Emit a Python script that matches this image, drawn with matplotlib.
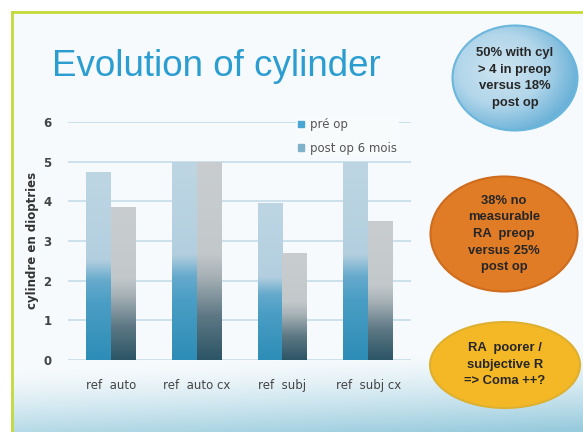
import numpy as np
import matplotlib
matplotlib.use("Agg")
import matplotlib.pyplot as plt
from matplotlib.patches import Ellipse, Rectangle
from matplotlib.colors import LinearSegmentedColormap, to_rgb

categories = ["ref  auto", "ref  auto cx", "ref  subj", "ref  subj cx"]
series_names = ["pré op", "post op 6 mois"]
pre_op = [4.75, 5.0, 3.95, 5.0]
post_op = [3.85, 5.0, 2.7, 3.5]
y_ticks = [0, 1, 2, 3, 4, 5, 6]
title = "Evolution of cylinder"
ylabel = "cylindre en dioptries"
notes = ["50% with cyl\n> 4 in preop\nversus 18%\npost op",
         "38% no\nmeasurable\nRA  preop\nversus 25%\npost op",
         "RA  poorer /\nsubjective R\n=> Coma ++?"]

W, H = 583, 432
fig = plt.figure(figsize=(W / 100, H / 100), dpi=100)

# background
bg = fig.add_axes([0, 0, 1, 1], zorder=-10)
yy, xx = np.mgrid[0:H, 0:W]
base = np.array(to_rgb("#f6fafc"))
blue = np.array(to_rgb("#98cbdd"))
t = np.clip((yy - 360 + 0.04 * (xx - 300)) / 80.0, 0, 1) ** 1.3
img = base[None, None, :] * (1 - t[..., None]) + blue[None, None, :] * t[..., None]
img[:11, :, :] = 1.0
img[:, :11, :] = 1.0
bg.imshow(img, extent=(0, W, H, 0), aspect="auto")
bg.plot([11.5, 11.5], [H, 11.5], color="#c3da3a", lw=2)
bg.plot([11.5, W], [11.5, 11.5], color="#c3da3a", lw=2)
bg.set_xlim(0, W)
bg.set_ylim(H, 0)
bg.axis("off")

def fx(px):
    return px / W

def fy(py):
    return 1 - py / H

# title
fig.text(fx(52), fy(66), title, fontsize=26.5, color="#2b9dd0",
         family="Liberation Sans", va="center", ha="left")

# main axes
ax = fig.add_axes([fx(68), fy(360), fx(411) - fx(68), (360 - 122) / H])
ax.set_facecolor("none")
x = np.arange(len(categories))
bw = 0.29
bars_pre = ax.bar(x - bw / 2, pre_op, bw, color="none", label=series_names[0], zorder=3)
bars_post = ax.bar(x + bw / 2, post_op, bw, color="none", label=series_names[1], zorder=3)

cm_pre = LinearSegmentedColormap.from_list("pre", [
    (0.0, "#2d8db6"), (0.3, "#4a9ec5"), (0.42, "#66aacc"),
    (0.53, "#b3cfdf"), (1.0, "#bed6e4")])
cm_post = LinearSegmentedColormap.from_list("post", [
    (0.0, "#2c5566"), (0.22, "#5d7884"), (0.42, "#a6b1b6"),
    (0.54, "#c3c9cb"), (1.0, "#c9cdcf")])
grad = np.linspace(1, 0, 256).reshape(-1, 1)
for bars, cm in ((bars_pre, cm_pre), (bars_post, cm_post)):
    for b in bars:
        x0, w, h = b.get_x(), b.get_width(), b.get_height()
        im = ax.imshow(grad, cmap=cm, vmin=0, vmax=1, extent=(x0, x0 + w, 0, h),
                       aspect="auto", zorder=3, interpolation="bilinear")
        im.set_clip_path(b)

ax.set_xlim(-0.5, len(categories) - 0.5)
ax.set_ylim(0, 6)
ax.set_yticks(y_ticks)
ax.set_xticks(x)
ax.set_xticklabels(categories)
ax.yaxis.grid(True, color="#c4dce8", lw=1.2, zorder=0)
ax.set_axisbelow(True)
for s in ax.spines.values():
    s.set_visible(False)
ax.tick_params(axis="both", length=0, labelsize=8.5, labelcolor="#444444")
ax.tick_params(axis="y", pad=12)
ax.tick_params(axis="x", pad=14)
for lab in ax.get_yticklabels():
    lab.set_fontweight("bold")
fig.text(fx(33), fy(240), ylabel, rotation=90, fontsize=8.5, fontweight="bold",
         color="#333333", ha="center", va="center")

handles = [Rectangle((0, 0), 1, 1, color="#4aa6d2"), Rectangle((0, 0), 1, 1, color="#7fb2c8")]
leg = fig.legend(handles, series_names, loc="upper left",
                 bbox_to_anchor=(fx(290), fy(110)), frameon=True, facecolor="#f8fbfc",
                 edgecolor="none", framealpha=1, fontsize=8.5, handlelength=0.5,
                 handleheight=0.5, handletextpad=0.5, labelspacing=0.9,
                 borderpad=0.2)
for tx in leg.get_texts():
    tx.set_color("#555555")

# ellipses
ells = [((515, 78), 125, 105, None, "#6ab6dc"),
        ((504, 234), 147, 115, "#e07b26", "#cf6c1d"),
        ((505, 365), 150, 86, "#f4b826", "#ddb030")]
for (c, w, h, fc, ec), note in zip(ells, notes):
    eax = fig.add_axes([fx(c[0] - w / 2 - 2), fy(c[1] + h / 2 + 2),
                        (w + 4) / W, (h + 4) / H], zorder=5)
    eax.set_xlim(-0.5 - 2 / w, 0.5 + 2 / w)
    eax.set_ylim(-0.5 - 2 / h, 0.5 + 2 / h)
    eax.axis("off")
    eax.set_facecolor("none")
    e = Ellipse((0, 0), 1, 1, facecolor=fc if fc else "none", edgecolor=ec, lw=1.5, zorder=2)
    eax.add_patch(e)
    if fc is None:
        gy, gx = np.mgrid[0.5:-0.5:100j, -0.5:0.5:100j]
        d = np.sqrt((gx + 0.12) ** 2 + (gy - 0.08) ** 2) / 0.62
        cmb = LinearSegmentedColormap.from_list("eb", [(0, "#cfe5f1"), (0.55, "#b2d6ea"),
                                                        (1, "#6cb2d8")])
        gim = eax.imshow(np.clip(d, 0, 1), cmap=cmb, vmin=0, vmax=1,
                         extent=(-0.5, 0.5, -0.5, 0.5), aspect="auto", zorder=1)
        gim.set_clip_path(e)
    eax.text(0, 0, note, ha="center", va="center", fontsize=9.4,
             color="#262626", linespacing=1.5, zorder=6, fontweight="bold",
             family="Liberation Sans")

fig.savefig("out.png", dpi=100)
